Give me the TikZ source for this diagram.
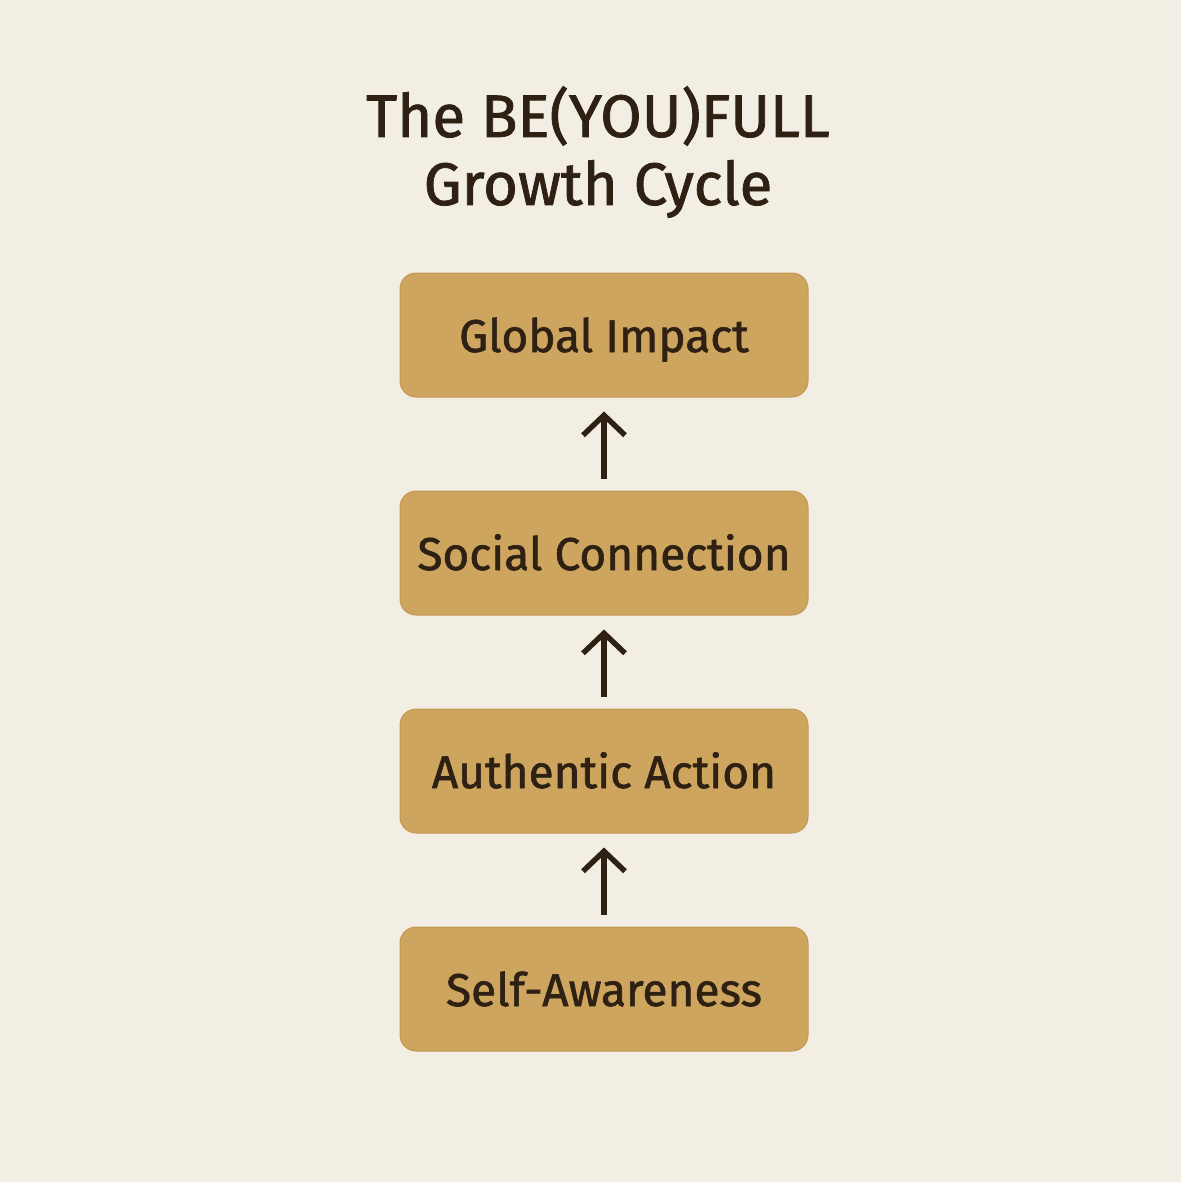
\documentclass[tikz,border=0pt]{standalone}
\usepackage{fontspec}
\setmainfont{Fira Sans}[FakeBold=1.3]
\usepackage{tikz}
\usetikzlibrary{arrows.meta,positioning,calc}
\definecolor{paper}{HTML}{F3EEE4}
\definecolor{gold}{HTML}{CDA55E}
\definecolor{goldline}{HTML}{C49A52}
\definecolor{ink}{HTML}{2E2114}

\tikzset{
  stage/.style={fill=gold, draw=goldline, line width=1pt, rounded corners=16pt,
    minimum width=408pt, minimum height=124pt, inner sep=0pt, text=ink,
    text height=40pt, text depth=6pt,
    font=\fontsize{46}{50}\selectfont},
  up/.style={draw=ink, line width=5.4pt, -{Straight Barb[length=20pt,width=42pt]}}
}

\begin{document}
\begin{tikzpicture}[x=1pt,y=-1pt]
    \fill[paper] (0,0) rectangle (1181,1182);
    \useasboundingbox (0,0) rectangle (1181,1182);

    \node [text=ink, align=center, font=\fontsize{60}{68}\selectfont] (title) at (598,152) {The BE(YOU)FULL\\Growth Cycle};

    \node [stage] (impact) at (604,335) { Global Impact };
    \node [stage] (social) at (604,553) { Social Connection };
    \node [stage] (action) at (604,771) { Authentic Action };
    \node [stage] (self) at (604,989) { Self-Awareness };

    \draw [up] ($(self.north)+(0,-12)$) -- ($(action.south)+(0,14)$);
    \draw [up] ($(action.north)+(0,-12)$) -- ($(social.south)+(0,14)$);
    \draw [up] ($(social.north)+(0,-12)$) -- ($(impact.south)+(0,14)$);
  \end{tikzpicture}
\end{document}
